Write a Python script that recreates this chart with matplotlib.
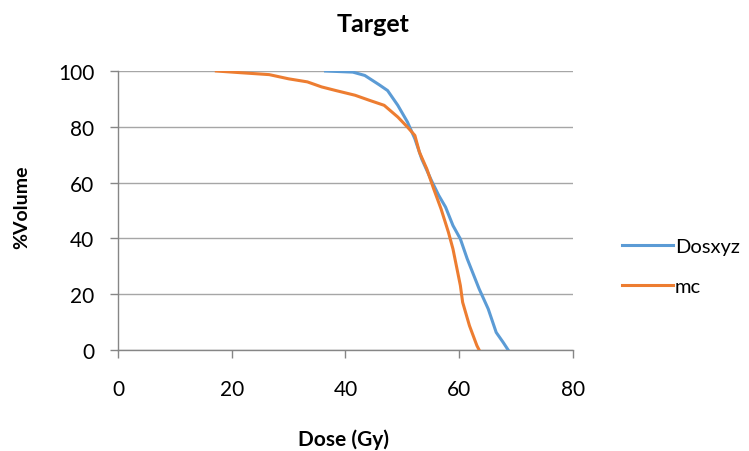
#!/usr/bin/env python3
"""Dose-volume histogram for the target: Dosxyz vs mc."""

import matplotlib

matplotlib.use("Agg")

import matplotlib.pyplot as plt

# values
dosxyz_dose = [36.5, 41.3, 43.4, 45.9, 47.4, 49.2, 50.9, 52.2, 53.4, 55.1, 56.4, 57.6,
               58.9, 60.2, 61.4, 63.5, 65.1, 66.5, 67.7, 68.6]
dosxyz_vol = [100, 99.6, 98.4, 95.1, 93.0, 87.7, 81.7, 75.7, 68.5, 60.8, 55.4, 51.2,
              44.6, 39.8, 32.7, 21.9, 14.7, 6.3, 2.8, 0]

mc_dose = [17.3, 21.5, 26.6, 30.0, 33.3, 35.8, 38.3, 41.7, 44.2, 46.8, 49.2, 50.9,
           52.2, 53.0, 54.3, 55.5, 56.8, 58.1, 58.9, 60.2, 60.6, 61.8, 63.1, 63.5]
mc_vol = [100, 99.4, 98.7, 97.2, 96.1, 94.3, 93.0, 91.3, 89.5, 87.7, 83.5, 79.9,
          76.9, 70.9, 64.9, 57.8, 50.6, 42.2, 36.2, 23.1, 17.1, 8.7, 1.6, 0]

x_ticks = [0, 20, 40, 60, 80]
y_ticks = [0, 20, 40, 60, 80, 100]

BLUE = "#5B9BD5"
ORANGE = "#ED7D31"
GRID = "#A6A6A6"
AXIS = "#868686"

plt.rcParams.update({"font.family": ["Lato", "DejaVu Sans"]})

fig = plt.figure(figsize=(7.49, 4.52), dpi=100, facecolor="white")
ax = fig.add_axes([0.1575, 0.2235, 0.6075, 0.6172])

ax.plot(dosxyz_dose, dosxyz_vol, color=BLUE, linewidth=2.2, label="Dosxyz", zorder=3)
ax.plot(mc_dose, mc_vol, color=ORANGE, linewidth=2.2, label="mc", zorder=3)

ax.set_xlim(0, 80)
ax.set_ylim(0, 100)
ax.set_xticks(x_ticks)
ax.set_yticks(y_ticks)
ax.tick_params(axis="y", length=6, width=1, color=AXIS, direction="out",
               labelsize=15, pad=11)
ax.tick_params(axis="x", length=6, width=1, color=AXIS, direction="out",
               labelsize=15, pad=15)
ax.grid(axis="y", color=GRID, linewidth=1)
ax.set_axisbelow(True)

for side in ("right", "top"):
    ax.spines[side].set_visible(False)
for side in ("left", "bottom"):
    ax.spines[side].set_color(AXIS)
    ax.spines[side].set_linewidth(1)

ax.set_ylabel("%Volume", fontsize=14, fontweight="bold")
ax.yaxis.set_label_coords(-0.192, 0.516)

fig.text(0.498, 0.929, "Target", fontsize=18, fontweight="bold", ha="center", va="baseline")
fig.text(0.458, 0.013, "Dose (Gy)", fontsize=15, fontweight="bold", ha="center", va="baseline")

fig.legend(loc="center left", bbox_to_anchor=(0.831, 0.409), frameon=False,
           fontsize=14.5, handlelength=2.5, handletextpad=0.1, labelspacing=1.15,
           borderpad=0, borderaxespad=0)

fig.savefig("out.png", dpi=100)
